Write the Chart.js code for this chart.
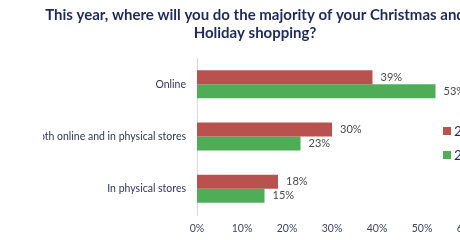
<!DOCTYPE html>
<html>
<head>
<meta charset="utf-8">
<script src="https://cdn.jsdelivr.net/npm/chart.js@4.4.1/dist/chart.umd.min.js"></script>
<style>
  html, body { margin: 0; padding: 0; width: 460px; height: 240px; overflow: hidden; background: #fff; }
  #wrap { position: absolute; left: -60px; top: 0; width: 630px; height: 240px; }
</style>
</head>
<body>
<div id="wrap"><canvas id="chart" width="630" height="240"></canvas></div>
<script>
// data
const titleLines = ['This year, where will you do the majority of your Christmas and', 'Holiday shopping?'];
const categories = ['Online', 'Spend an equal amount in both online and in physical stores', 'In physical stores'];
const seriesNames = ['2014', '2015'];
const lastYear = [39, 30, 18];
const thisYear = [53, 23, 15];
const xTicks = [0, 10, 20, 30, 40, 50, 60];

const RED = '#B9524E';
const GREEN = '#4FAC57';
const NAVY = '#1F2A5C';

// value labels after each bar
const valueLabels = {
  id: 'valueLabels',
  afterDatasetsDraw(chart) {
    const ctx = chart.ctx;
    ctx.save();
    ctx.font = '11px Lato';
    ctx.fillStyle = '#4a4a4a';
    ctx.textAlign = 'left';
    ctx.textBaseline = 'middle';
    chart.data.datasets.forEach((ds, i) => {
      chart.getDatasetMeta(i).data.forEach((bar, j) => {
        ctx.fillText(ds.data[j] + '%', bar.x + 8, bar.y);
      });
    });
    ctx.restore();
  }
};

// legend sits over the right side of the plot, like the original
const sideLegend = {
  id: 'sideLegend',
  afterDraw(chart) {
    const ctx = chart.ctx;
    const x = chart.chartArea.right - 24;
    let y = 131;
    ctx.save();
    ctx.font = '14px Lato';
    ctx.textBaseline = 'middle';
    chart.data.datasets.forEach(ds => {
      ctx.fillStyle = ds.backgroundColor;
      ctx.fillRect(x, y - 4, 8, 8);
      ctx.fillStyle = NAVY;
      ctx.fillText(ds.label, x + 11, y);
      y += 24;
    });
    ctx.restore();
  }
};

new Chart(document.getElementById('chart'), {
  type: 'bar',
  data: {
    labels: categories,
    datasets: [
      { label: seriesNames[0], data: lastYear, backgroundColor: RED },
      { label: seriesNames[1], data: thisYear, backgroundColor: GREEN }
    ]
  },
  options: {
    indexAxis: 'y',
    responsive: false,
    animation: false,
    devicePixelRatio: 1,
    categoryPercentage: 0.535,
    barPercentage: 1,
    layout: { padding: { left: 103, right: 103, top: 0, bottom: 0 } },
    plugins: {
      legend: { display: false },
      tooltip: { enabled: false },
      title: {
        display: true,
        text: titleLines,
        color: NAVY,
        font: { family: 'Lato', size: 15, weight: 'bold', lineHeight: 1.2 },
        padding: { top: 6, bottom: 16 }
      }
    },
    scales: {
      x: {
        min: 0,
        max: 60,
        afterBuildTicks: axis => { axis.ticks = xTicks.map(v => ({ value: v })); },
        afterFit: axis => { axis.height = 25; },
        grid: { display: false, drawTicks: false },
        border: { display: false },
        ticks: { padding: 7, color: '#3d4566', font: { family: 'Lato', size: 10.5 }, callback: v => v + '%' }
      },
      y: {
        afterFit: axis => { axis.width = 154; },
        grid: { display: false, drawTicks: false },
        border: { display: true, color: '#D9D9D9' },
        ticks: { padding: 11, color: '#2f3658', font: { family: 'Lato', size: 10.5 } }
      }
    }
  },
  plugins: [valueLabels, sideLegend]
});
</script>
</body>
</html>
